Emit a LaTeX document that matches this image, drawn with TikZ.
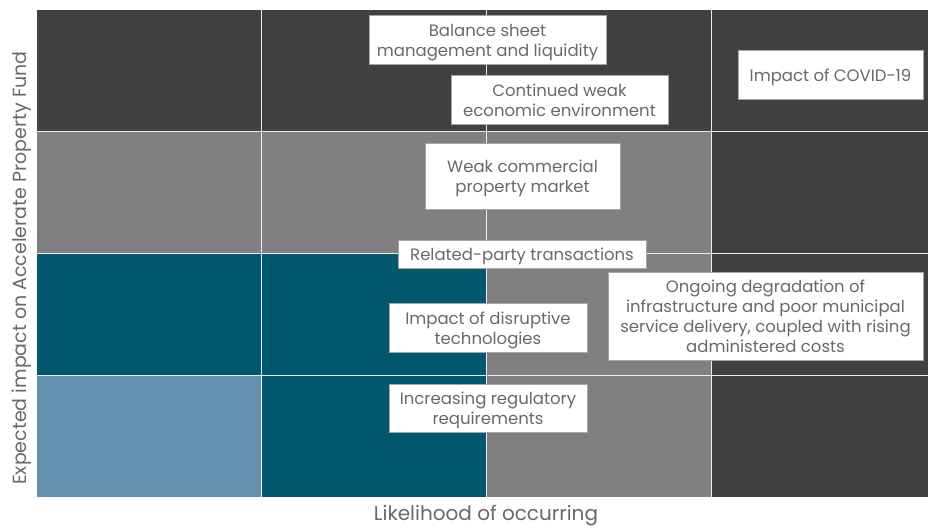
\documentclass[tikz,border=0pt]{standalone}
\usepackage{fontspec}
\setmainfont{Poppins}
\definecolor{cdark}{HTML}{414143}
\definecolor{cgray}{HTML}{808083}
\definecolor{cteal}{HTML}{02596F}
\definecolor{clight}{HTML}{648FAE}
\definecolor{ctext}{HTML}{68696B}
\newcommand\boxtext[1]{\raisebox{-2.5pt}[\height][\depth]{\begin{tabular}{@{}c@{}}#1\end{tabular}}}
\begin{document}
\begin{tikzpicture}[x=1pt,y=-1pt,
  cell/.style={draw=white!85!gray, line width=0.8pt},
  riskbox/.style={draw=gray!70, line width=0.6pt, fill=white, text=ctext, font=\fontsize{16.5}{20}\selectfont, inner sep=0pt},
  axislabel/.style={text=ctext}]
\useasboundingbox (0,0) rectangle (928,528);
% row 1
\fill[cdark] (37,10) rectangle (928,131);
% row 2
\fill[cgray] (37,131) rectangle (711,253);
\fill[cdark] (711,131) rectangle (928,253);
% row 3
\fill[cteal] (37,253) rectangle (486,375);
\fill[cgray] (486,253) rectangle (711,375);
\fill[cdark] (711,253) rectangle (928,375);
% row 4
\fill[clight] (37,375) rectangle (261,497);
\fill[cteal] (261,375) rectangle (486,497);
\fill[cgray] (486,375) rectangle (711,497);
\fill[cdark] (711,375) rectangle (928,497);
% grid lines
\draw[cell] (261,10) -- (261,497);
\draw[cell] (486,10) -- (486,497);
\draw[cell] (711,10) -- (711,497);
\draw[cell] (37,131) -- (928,131);
\draw[cell] (37,253) -- (928,253);
\draw[cell] (37,375) -- (928,375);
% boxes
\node[riskbox, minimum width=237pt, minimum height=49pt] (bal) at (487.5,39.5) {\boxtext{Balance sheet\\management and liquidity}};
\node[riskbox, minimum width=217pt, minimum height=49pt] (eco) at (559.5,99.5) {\boxtext{Continued weak\\economic environment}};
\node[riskbox, minimum width=185pt, minimum height=49pt] (cov) at (830.5,74.5) {\boxtext{Impact of COVID-19}};
\node[riskbox, minimum width=195pt, minimum height=66pt] (wcp) at (522.5,176) {\boxtext{Weak commercial\\property market}};
\node[riskbox, minimum width=248pt, minimum height=28pt] (rpt) at (522,254) {\boxtext{Related-party transactions}};
\node[riskbox, minimum width=315pt, minimum height=88pt] (ong) at (765.5,316) {\boxtext{Ongoing degradation of\\infrastructure and poor municipal\\service delivery, coupled with rising\\administered costs}};
\node[riskbox, minimum width=198pt, minimum height=49pt] (dis) at (488,327.5) {\boxtext{Impact of disruptive\\technologies}};
\node[riskbox, minimum width=198pt, minimum height=48pt] (reg) at (488,408) {\boxtext{Increasing regulatory\\requirements}};
% axis labels
\node[axislabel, rotate=90, font=\fontsize{19}{22}\selectfont] (ylab) at (22,268) {Expected impact on Accelerate Property Fund};
\node[axislabel, font=\fontsize{20}{22}\selectfont] (xlab) at (486,516) {Likelihood of occurring};
\end{tikzpicture}
\end{document}
